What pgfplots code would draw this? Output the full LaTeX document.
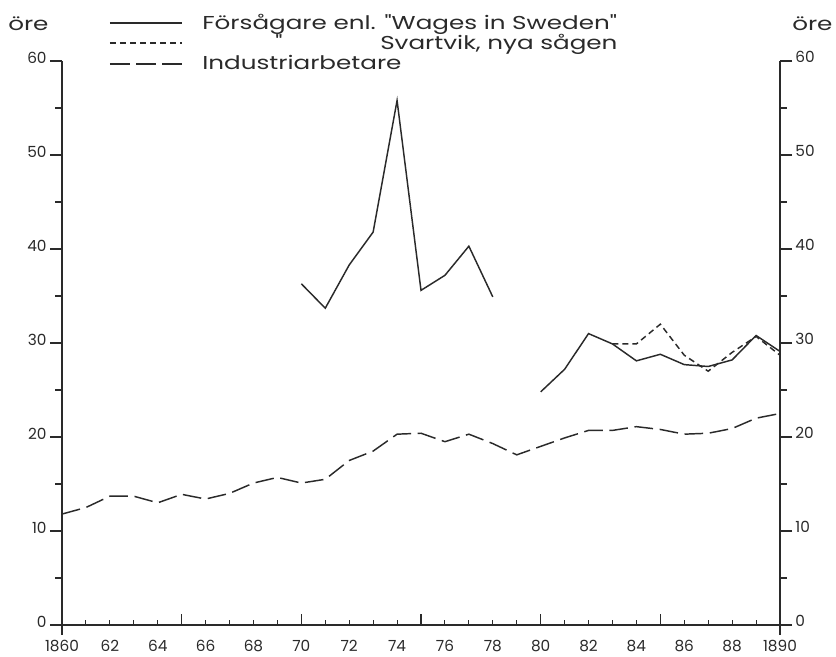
\documentclass[border=0pt]{standalone}
\usepackage{fontspec}
\setmainfont{Poppins}
\newfontfamily\legendfont{Poppins}[FakeStretch=1.32]
\usepackage{pgfplots}
\pgfplotsset{compat=1.18}
\definecolor{ink}{HTML}{2A2A2A}
\begin{document}
\begin{tikzpicture}
\pgfplotsset{
  base/.style={
    at={(0,0)}, anchor=south west, scale only axis,
    width=538.5pt, height=423pt,
    xmin=1860, xmax=1890, ymin=0, ymax=60,
    axis line style={line width=0.9pt, color=ink},
    every tick/.style={line width=0.8pt, color=ink},
    tick label style={font=\fontsize{11.5}{12}\selectfont, color=ink},
    /pgf/number format/assume math mode=true,
  }
}
% data axis with x axis
\begin{axis}[base,
  axis x line*=bottom, hide y axis,
  tick align=inside,
  xtick={1860,1862,...,1890},
  xticklabels={1860,62,64,66,68,70,72,74,76,78,80,82,84,86,88,1890},
  minor xtick={1861,1863,...,1889},
  major tick length=4pt, minor tick length=4pt,
  xticklabel style={yshift=-8pt}]
\addplot[color=ink, line width=1.1pt] coordinates {
 (1870,36.3) (1871,33.7) (1872,38.3) (1873,41.8) (1874,55.8)
 (1875,35.6) (1876,37.2) (1877,40.3) (1878,34.9)};
\addplot[color=ink, line width=1.1pt] coordinates {
 (1880,24.8) (1881,27.2) (1882,31.0) (1883,29.9) (1884,28.1) (1885,28.8)
 (1886,27.7) (1887,27.5) (1888,28.2) (1889,30.8) (1890,29.1)};
\addplot[color=ink, line width=1.1pt, dash pattern=on 4.5pt off 3pt] coordinates {
 (1883,29.9) (1884,29.9) (1885,32.0) (1886,28.7) (1887,27.0)
 (1888,29.0) (1889,30.7) (1890,28.7)};
\addplot[color=ink, line width=1.1pt, dash pattern=on 14pt off 5pt] coordinates {
 (1860,11.8) (1861,12.5) (1862,13.7) (1863,13.7) (1864,13.0) (1865,13.9)
 (1866,13.4) (1867,14.0) (1868,15.1) (1869,15.7) (1870,15.1) (1871,15.5)
 (1872,17.5) (1873,18.5) (1874,20.3) (1875,20.4) (1876,19.5) (1877,20.3)
 (1878,19.3) (1879,18.1) (1880,19.0) (1881,19.9) (1882,20.7) (1883,20.7)
 (1884,21.1) (1885,20.8) (1886,20.3) (1887,20.4) (1888,20.9) (1889,22.0)
 (1890,22.5)};
\end{axis}
% taller ticks every five years
\begin{axis}[base,
  axis x line*=bottom, hide y axis,
  tick align=inside, xtick={1865,1870,1875,1880,1885}, xticklabels={},
  major tick length=8pt]
\end{axis}
% ends of the x axis reaching below it
\begin{axis}[base,
  axis x line*=bottom, hide y axis,
  tick align=center, xtick={1860,1890}, xticklabels={},
  major tick length=15pt]
\end{axis}
% left y axis
\begin{axis}[base,
  axis y line*=left, hide x axis,
  tick align=outside,
  ytick={0,10,...,60}, minor ytick={5,15,...,55},
  major tick length=9pt, minor tick length=5pt,
  yticklabel style={yshift=2pt, xshift=1pt}]
\end{axis}
% right y axis
\begin{axis}[base,
  axis y line*=right, hide x axis,
  tick align=outside,
  ytick={0,10,...,60}, minor ytick={5,15,...,55},
  major tick length=9pt, minor tick length=5pt,
  yticklabel style={yshift=3pt, xshift=-1pt}]
\end{axis}
% legend and unit labels, in pixel coordinates of the reference
\begin{scope}[shift={(-46.5pt,468.75pt)}, x=0.75pt, y=-0.75pt]
\useasboundingbox (0,0) rectangle (836,653);
\begin{scope}[font=\legendfont\fontsize{14}{16}\selectfont, color=ink]
\node[anchor=base west, inner sep=0pt] at (8,31) {öre};
\node[anchor=base west, inner sep=0pt] at (792,31) {öre};
\draw[line width=1.1pt] (110,23) -- (182,23);
\draw[line width=1.1pt, dash pattern=on 4.5pt off 3pt] (110,43) -- (182,43);
\draw[line width=1.1pt, dash pattern=on 15pt off 4.5pt] (110,64) -- (182,64);
\node[anchor=base west, inner sep=0pt] at (202,30) {Försågare enl. "Wages in Sweden"};
\node[anchor=base west, inner sep=0pt] at (275,50) {"};
\node[anchor=base west, inner sep=0pt] at (380,50) {Svartvik, nya sågen};
\node[anchor=base west, inner sep=0pt] at (202,70) {Industriarbetare};
\end{scope}
\end{scope}
\end{tikzpicture}
\end{document}
